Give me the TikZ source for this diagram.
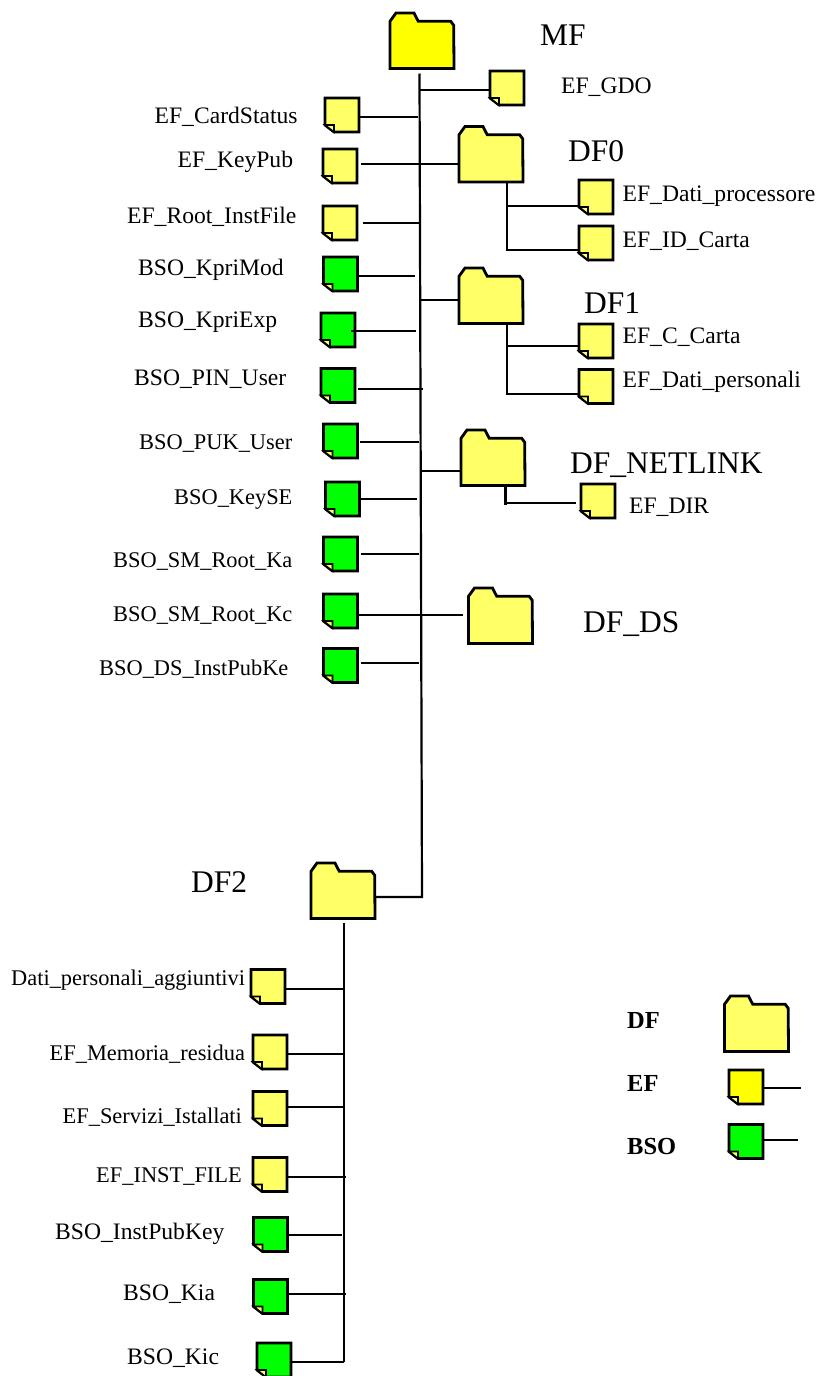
\documentclass[tikz,border=0pt]{standalone}
\usepackage{fontspec}
\setmainfont{Liberation Serif}
\definecolor{paleY}{RGB}{255,255,102}
\definecolor{fullY}{RGB}{255,255,0}
\definecolor{fullG}{RGB}{0,255,0}
\newcommand{\smallfont}{\fontsize{23.6}{28}\selectfont}
\newcommand{\tinyfont}{\fontsize{22.4}{27}\selectfont}
\newcommand{\legfont}{\fontsize{24.5}{28}\selectfont\bfseries}
\newcommand{\bigfont}{\fontsize{31.5}{36}\selectfont}
\tikzset{
  iconbox/.style={inner sep=0pt,outer sep=0pt,minimum width=34pt,minimum height=34pt},
  folderbox/.style={inner sep=0pt,outer sep=0pt,minimum width=64pt,minimum height=55.5pt},
  iconline/.style={draw=black,line width=2.8pt,line join=miter},
  wire/.style={draw=black,line width=2.2pt},
  small/.style={anchor=base west,inner sep=0pt,yshift=-1.5pt,font=\smallfont},
  tiny/.style={anchor=base west,inner sep=0pt,yshift=-1.5pt,font=\tinyfont},
  large/.style={anchor=base west,inner sep=0pt,font=\bigfont},
  legendtext/.style={anchor=base west,inner sep=0pt,font=\legfont}
}
% left, top, colour
\newcommand{\fileicon}[4]{%
  \node[iconbox,anchor=north west] (#1) at (#2,#3) {};
  \draw[iconline,fill=#4] (#1.north west) -- (#1.north east) -- (#1.south east)
     -- ([xshift=9pt]#1.south west) -- ([yshift=7pt]#1.south west) -- cycle;
  \draw[draw=black,line width=1.6pt,fill=paleY] ([yshift=7pt]#1.south west) -- ([xshift=9pt,yshift=7pt]#1.south west) -- ([xshift=9pt]#1.south west) -- cycle;
}
\newcommand{\foldericon}[4]{%
  \node[folderbox,anchor=north west] (#1) at (#2,#3) {};
  \draw[iconline,fill=#4] (#1.south west) -- ([yshift=-8.3pt]#1.north west)
    -- ([xshift=6pt]#1.north west) -- ([xshift=24pt]#1.north west)
    -- ([xshift=25.7pt,yshift=-3.5pt]#1.north west) -- ([xshift=28.3pt,yshift=-8.3pt]#1.north west)
    -- ([xshift=60.7pt,yshift=-8.3pt]#1.north west) -- ([xshift=63.7pt,yshift=-12.3pt]#1.north west)
    -- (#1.south east) -- cycle;
}
% icon, side gap, free end x, y
\newcommand{\conn}[4]{%
  \coordinate (#1-end) at (#3,#4);
  \draw[wire] ([xshift=#2pt]#1.east |- #1-end) -- (#1-end);
}
\begin{document}
\begin{tikzpicture}[x=1pt,y=-1pt]
\useasboundingbox (0,0) rectangle (818,1376);
% folders
\foldericon{mf}{390}{13}{fullY}
\foldericon{dfzero}{459}{126.5}{paleY}
\foldericon{dfone}{459}{268}{paleY}
\foldericon{dfnet}{461}{430}{paleY}
\foldericon{dfds}{468.5}{588}{paleY}
\foldericon{dftwo}{311}{863}{paleY}
\foldericon{legdf}{724.5}{996}{paleY}
% left files
\fileicon{card}{325}{98}{paleY}
\fileicon{keypub}{323}{149}{paleY}
\fileicon{root}{323}{206}{paleY}
\fileicon{kmod}{323.5}{257}{fullG}
\fileicon{kexp}{321}{313}{fullG}
\fileicon{pin}{321}{368.5}{fullG}
\fileicon{puk}{323.5}{424}{fullG}
\fileicon{keyse}{325.5}{482}{fullG}
\fileicon{ka}{323.5}{537}{fullG}
\fileicon{kc}{323.5}{594}{fullG}
\fileicon{dsk}{323.5}{648.5}{fullG}
% right files
\fileicon{gdo}{490}{71}{paleY}
\fileicon{proc}{579}{180}{paleY}
\fileicon{idc}{579}{226}{paleY}
\fileicon{ccarta}{579}{324}{paleY}
\fileicon{dper}{579}{369.5}{paleY}
\fileicon{dir}{581}{484}{paleY}
% DF2 files
\fileicon{agg}{251}{969.5}{paleY}
\fileicon{mem}{253}{1035}{paleY}
\fileicon{serv}{253}{1091.5}{paleY}
\fileicon{inst}{253}{1157.5}{paleY}
\fileicon{ipk}{253.5}{1217.5}{fullG}
\fileicon{kia}{253.5}{1279.5}{fullG}
\fileicon{kic}{257}{1343}{fullG}
% legend
\fileicon{legef}{729}{1070}{fullY}
\fileicon{legbso}{729}{1124.5}{fullG}
% trunks
\coordinate (elbow) at (422,897);
\draw[wire] ([yshift=-5pt]mf.south -| 419.5,0) -- (elbow) -- (elbow -| dftwo.east);
\coordinate (twoend) at (344,1362);
\draw[wire] (dftwo.south -| twoend) ++(0,4) -- (twoend);
\coordinate (zeroend) at (507,250);
\draw[wire] (dfzero.south -| zeroend) -- (zeroend) -- (zeroend -| idc.west);
\coordinate (zerobr) at (507,206);
\draw[wire] (zerobr) -- (zerobr -| proc.west);
\coordinate (oneend) at (507,394);
\draw[wire] (dfone.south -| oneend) -- (oneend) -- (oneend -| dper.west);
\coordinate (onebr) at (507,346);
\draw[wire] (onebr) -- (onebr -| ccarta.west);
\coordinate (netend) at (505.5,505);
\draw[wire] (dfnet.south -| netend) -- (netend);
\coordinate (netbr) at (505.5,503);
\draw[wire] (netbr) -- ([xshift=-5pt]netbr -| dir.west);
% branches to folders
\coordinate (gdobr) at (420,90);
\draw[wire] (gdobr) -- (gdobr -| gdo.west);
\coordinate (zerotr) at (420,164);
\draw[wire] ([xshift=4pt]keypub.east |- zerotr) -- (zerotr -| dfzero.west);
\coordinate (onetr) at (421,300);
\draw[wire] (onetr) -- (onetr -| dfone.west);
\coordinate (nettr) at (421,471);
\draw[wire] (nettr) -- (nettr -| dfnet.west);
\coordinate (dstr) at (463,615);
\draw[wire] (kc.east |- dstr) -- (dstr);
% free-ended branches
\conn{card}{1}{418}{117}
\conn{root}{6}{420}{223}
\conn{kmod}{0}{415}{276}
\conn{kexp}{-4}{416}{331}
\conn{pin}{3}{423}{389}
\conn{puk}{2}{419}{442}
\conn{keyse}{0}{417}{499}
\conn{ka}{3}{419}{554}
\conn{dsk}{3}{419}{663}
\conn{agg}{0}{344}{989}
\conn{mem}{0}{344}{1054}
\conn{serv}{0}{344}{1107}
\conn{inst}{0}{346}{1177}
\conn{ipk}{0}{342}{1235}
\conn{kia}{0}{346}{1294}
\conn{kic}{0}{344}{1362}
\conn{legef}{0}{801}{1088}
\conn{legbso}{0}{798}{1140}
% labels
\node[large] (tmf) at (540,45) {MF};
\node[large] (tdf0) at (568,161) {DF0};
\node[large] (tdf1) at (584,313) {DF1};
\node[large] (tdfn) at (570,473) {DF\_NETLINK};
\node[large] (tdfd) at (583,632) {DF\_DS};
\node[large] (tdf2) at (191,892) {DF2};
\node[small] (t1) at (154.5,122) {EF\_CardStatus};
\node[small] (t2) at (177.5,166) {EF\_KeyPub};
\node[small] (t3) at (127,222) {EF\_Root\_InstFile};
\node[small] (t4) at (138,274) {BSO\_KpriMod};
\node[small] (t5) at (138,326) {BSO\_KpriExp};
\node[small] (t6) at (134,384) {BSO\_PIN\_User};
\node[tiny] (t7) at (139,448) {BSO\_PUK\_User};
\node[tiny] (t8) at (174,503) {BSO\_KeySE};
\node[tiny] (t9) at (113,566) {BSO\_SM\_Root\_Ka};
\node[tiny] (t10) at (113,620) {BSO\_SM\_Root\_Kc};
\node[tiny] (t11) at (99,674) {BSO\_DS\_InstPubKe};
\node[small] (t12) at (561,92) {EF\_GDO};
\node[small] (t13) at (622.5,200) {EF\_Dati\_processore};
\node[small] (t14) at (622.5,246) {EF\_ID\_Carta};
\node[small] (t15) at (622.5,342) {EF\_C\_Carta};
\node[small] (t16) at (622.5,386) {EF\_Dati\_personali};
\node[small] (t17) at (629,512) {EF\_DIR};
\node[tiny] (t18) at (11,984) {Dati\_personali\_aggiuntivi};
\node[tiny] (t19) at (49.5,1059) {EF\_Memoria\_residua};
\node[tiny] (t20) at (62.5,1122) {EF\_Servizi\_Istallati};
\node[tiny] (t21) at (96,1181) {EF\_INST\_FILE};
\node[small] (t22) at (55,1238) {BSO\_InstPubKey};
\node[small] (t23) at (123,1299) {BSO\_Kia};
\node[small] (t24) at (127,1363) {BSO\_Kic};
\node[legendtext] (l1) at (627,1028) {DF};
\node[legendtext] (l2) at (627,1091) {EF};
\node[legendtext] (l3) at (627,1154) {BSO};
\end{tikzpicture}
\end{document}
